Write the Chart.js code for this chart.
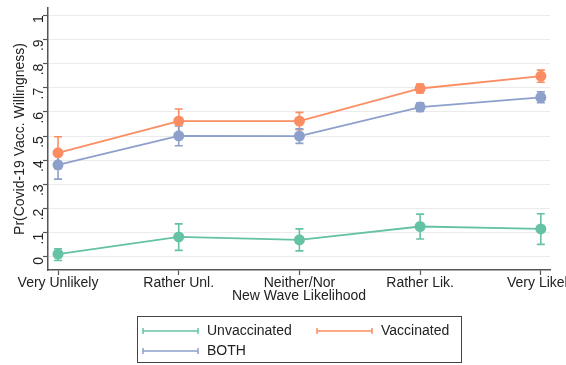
<!DOCTYPE html>
<html>
<head>
<meta charset="utf-8">
<script src="https://cdn.jsdelivr.net/npm/chart.js@4.4.1/dist/chart.umd.min.js"></script>
<style>
  html, body { margin: 0; padding: 0; background: #fff; }
  #wrap { width: 566px; height: 365px; position: relative; }
</style>
</head>
<body>
<div id="wrap"><canvas id="c" width="566" height="365"></canvas></div>
<script>
// Likelihood categories on the x axis
const categories = ['Very Unlikely', 'Rather Unl.', 'Neither/Nor', 'Rather Lik.', 'Very Likely'];
const yTickValues = [0, 0.1, 0.2, 0.3, 0.4, 0.5, 0.6, 0.7, 0.8, 0.9, 1];

// Predicted probabilities with confidence bounds
const unvacc   = [0.012, 0.083, 0.071, 0.126, 0.116];
const unvaccLo = [-0.015, 0.027, 0.025, 0.074, 0.052];
const unvaccHi = [0.034, 0.137, 0.116, 0.177, 0.179];

const vacc   = [0.431, 0.562, 0.562, 0.697, 0.748];
const vaccLo = [0.365, 0.512, 0.526, 0.679, 0.723];
const vaccHi = [0.497, 0.612, 0.598, 0.715, 0.773];

const both   = [0.381, 0.501, 0.500, 0.620, 0.660];
const bothLo = [0.322, 0.460, 0.470, 0.602, 0.638];
const bothHi = [0.440, 0.542, 0.530, 0.638, 0.683];

const GREEN = '#66c2a5', ORANGE = '#fc8d62', BLUE = '#8da0cb';
const AXIS = '#555555';
const FONT = 'Liberation Sans, Arial, sans-serif';
const FS = 14;

function pts(vals, lo, hi) {
  return vals.map((v, i) => ({ x: i, y: v, lo: lo[i], hi: hi[i] }));
}

function ds(label, vals, lo, hi, color) {
  return {
    label, data: pts(vals, lo, hi),
    borderColor: color, backgroundColor: color,
    borderWidth: 1.8, pointRadius: 5.5, pointHoverRadius: 5.5,
    pointBorderWidth: 0, tension: 0, fill: false
  };
}

// Vertical capped interval bars, drawn beneath the markers
const errorBars = {
  id: 'errorBars',
  beforeDatasetsDraw(chart) {
    const { ctx, scales: { x, y } } = chart;
    chart.data.datasets.forEach(d => {
      ctx.save();
      ctx.strokeStyle = d.borderColor;
      ctx.lineWidth = 1.6;
      d.data.forEach(p => {
        const px = x.getPixelForValue(p.x);
        const yl = y.getPixelForValue(p.lo);
        const yh = y.getPixelForValue(p.hi);
        ctx.beginPath();
        ctx.moveTo(px, yl); ctx.lineTo(px, yh);
        ctx.moveTo(px - 4, yl); ctx.lineTo(px + 4, yl);
        ctx.moveTo(px - 4, yh); ctx.lineTo(px + 4, yh);
        ctx.stroke();
      });
      ctx.restore();
    });
  }
};

// Boxed legend with capped-line keys below the axis
const boxLegend = {
  id: 'boxLegend',
  afterDraw(chart) {
    const ctx = chart.ctx;
    const ds = chart.data.datasets;
    const box = { x: 137.5, y: 316.5, w: 324, h: 46 };
    ctx.save();
    ctx.strokeStyle = '#444';
    ctx.lineWidth = 1;
    ctx.strokeRect(box.x, box.y, box.w, box.h);
    const slots = [
      { x: 143, y: 331 }, { x: 317, y: 331 }, { x: 143, y: 351 }
    ];
    ds.forEach((d, i) => {
      const s = slots[i];
      ctx.strokeStyle = d.borderColor;
      ctx.lineWidth = 1.5;
      ctx.beginPath();
      ctx.moveTo(s.x, s.y); ctx.lineTo(s.x + 55, s.y);
      ctx.moveTo(s.x, s.y - 3); ctx.lineTo(s.x, s.y + 3);
      ctx.moveTo(s.x + 55, s.y - 3); ctx.lineTo(s.x + 55, s.y + 3);
      ctx.stroke();
      ctx.fillStyle = '#222';
      ctx.font = FS + 'px ' + FONT;
      ctx.textBaseline = 'middle';
      ctx.textAlign = 'left';
      ctx.fillText(d.label, s.x + 64, s.y);
    });
    ctx.restore();
  }
};

new Chart(document.getElementById('c'), {
  type: 'line',
  data: {
    datasets: [
      ds('Unvaccinated', unvacc, unvaccLo, unvaccHi, GREEN),
      ds('Vaccinated', vacc, vaccLo, vaccHi, ORANGE),
      ds('BOTH', both, bothLo, bothHi, BLUE)
    ]
  },
  options: {
    responsive: false,
    animation: false,
    layout: { autoPadding: false, padding: { top: 8, right: 16, left: 0, bottom: 0 } },
    plugins: { legend: { display: false }, tooltip: { enabled: false } },
    scales: {
      x: {
        type: 'linear', min: -0.083, max: 4.076,
        afterBuildTicks: s => { s.ticks = categories.map((c, i) => ({ value: i })); },
        afterFit: s => { s.height = 95; s.paddingLeft = 0; s.paddingRight = 0; },
        ticks: {
          callback: v => categories[v],
          color: '#222', font: { family: FONT, size: FS },
          padding: 0, maxRotation: 0, minRotation: 0, autoSkip: false
        },
        grid: { drawOnChartArea: false, drawTicks: true, tickLength: 5, tickColor: AXIS, tickWidth: 1.2 },
        border: { color: AXIS, width: 1.5 },
        title: {
          display: true, text: 'New Wave Likelihood', color: '#222',
          font: { family: FONT, size: FS }, padding: { top: 0, bottom: 60 }
        }
      },
      y: {
        type: 'linear', min: -0.054, max: 1.03,
        afterBuildTicks: s => { s.ticks = yTickValues.map(v => ({ value: v })); },
        afterFit: s => { s.width = 48; s.paddingTop = 0; s.paddingBottom = 0; },
        ticks: {
          callback: v => {
            const r = Math.round(v * 10) / 10;
            if (r === 0) return '0';
            if (r === 1) return '1';
            return r.toFixed(1).replace(/^0/, '');
          },
          color: '#222', font: { family: FONT, size: FS },
          padding: 4, minRotation: 90, maxRotation: 90, autoSkip: false
        },
        grid: { color: '#ebebeb', lineWidth: 1, drawTicks: true, tickLength: 5, tickColor: AXIS, tickWidth: 1.2 },
        border: { color: AXIS, width: 1.5 },
        title: {
          display: true, text: 'Pr(Covid-19 Vacc. Willingness)', color: '#222',
          font: { family: FONT, size: FS }, padding: { top: 12, bottom: 0 }
        }
      }
    }
  },
  plugins: [errorBars, boxLegend]
});
</script>
</body>
</html>
